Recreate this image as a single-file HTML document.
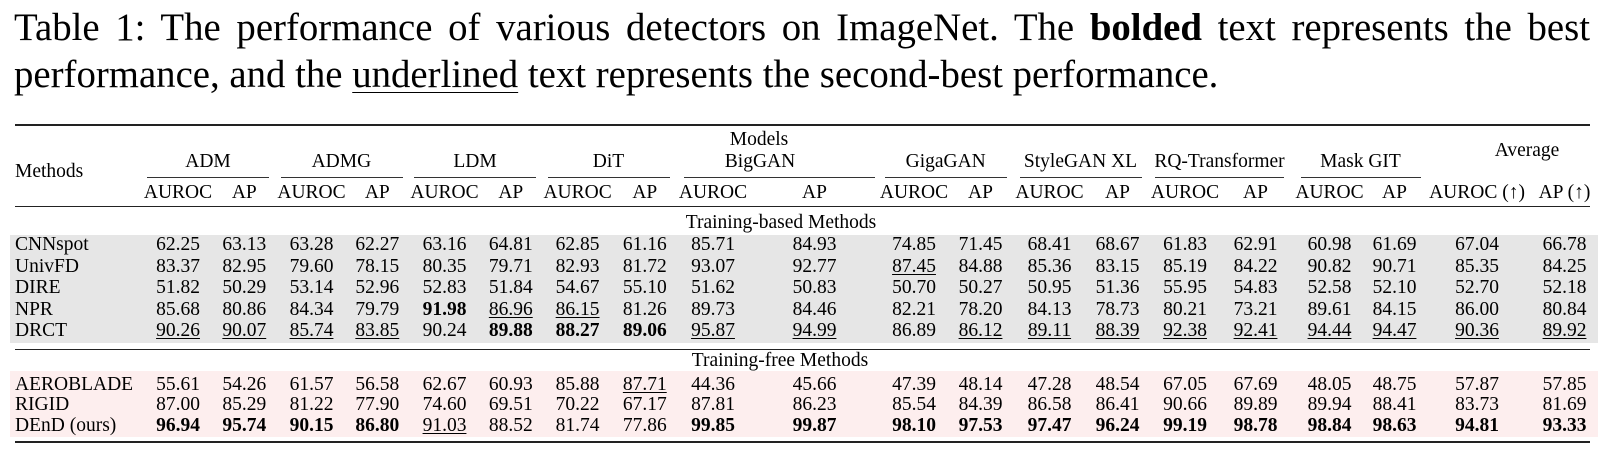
<!DOCTYPE html>
<html><head><meta charset="utf-8">
<style>
html,body{margin:0;padding:0}
body{width:1609px;height:452px;position:relative;background:#fff;font-family:"Liberation Serif","Times New Roman",serif;color:#000;overflow:hidden}
.t{position:absolute;left:14px;font-size:38.8px;line-height:39px;white-space:nowrap}
.t1{top:8px;width:1576px;text-align:justify;text-align-last:justify;white-space:normal}
.t2{top:55px}
.t u{text-decoration:underline;text-underline-offset:5px;text-decoration-thickness:1.3px}
.rule{position:absolute;left:15px;width:1575px;background:#222}
.cm{position:absolute;height:1px;top:177px;background:#333}
.bg{position:absolute;left:10px;width:1588px}
.r{position:absolute;left:0;width:1609px;height:20px;font-size:19.5px;line-height:20px}
.r span{position:absolute;width:100px;text-align:center;white-space:nowrap}
.r span.m{left:15px;width:auto;text-align:left}
.r span.g{width:200px}
.r u{text-decoration:underline;text-underline-offset:2px;text-decoration-thickness:1px}
.k1{left:128px}.k2{left:194.3px}.k3{left:261.5px}.k4{left:327.3px}.k5{left:394.5px}
.k6{left:460.8px}.k7{left:527.6px}.k8{left:594.8px}.k9{left:663px}.k10{left:764.5px}
.k11{left:864px}.k12{left:930.5px}.k13{left:999.5px}.k14{left:1067.5px}.k15{left:1135px}
.k16{left:1205.5px}.k17{left:1279.5px}.k18{left:1344.5px}.k19{left:1427px}.k20{left:1514.5px}
</style></head><body>

<div class="t t1">Table 1: The performance of various detectors on ImageNet. The <b>bolded</b> text represents the best</div>
<div class="t t2">performance, and the <u>underlined</u> text represents the second-best performance.</div>

<div class="rule" style="top:124px;height:2px"></div>
<div class="rule" style="top:206px;height:1px"></div>
<div class="rule" style="top:348.5px;height:1px"></div>
<div class="rule" style="top:441px;height:2px"></div>

<div class="cm" style="left:147px;width:122px"></div>
<div class="cm" style="left:280.5px;width:122px"></div>
<div class="cm" style="left:414px;width:122px"></div>
<div class="cm" style="left:547.6px;width:122px"></div>
<div class="cm" style="left:683.5px;width:191.5px"></div>
<div class="cm" style="left:885px;width:121.5px"></div>
<div class="cm" style="left:1019.5px;width:122px"></div>
<div class="cm" style="left:1155px;width:129px"></div>
<div class="cm" style="left:1300.5px;width:120px"></div>

<div class="bg" style="top:235px;height:108px;background:#e6e6e6"></div>
<div class="bg" style="top:371px;height:66px;background:#fdeeee"></div>

<div class="r" style="top:130.4px"><span class="g" style="left:659px">Models</span></div>
<div class="r" style="top:141.4px"><span class="g" style="left:1427px">Average</span></div>
<div class="r" style="top:152.4px">
<span class="g" style="left:108px">ADM</span>
<span class="g" style="left:241.4px">ADMG</span>
<span class="g" style="left:375px">LDM</span>
<span class="g" style="left:508.5px">DiT</span>
<span class="g" style="left:660px">BigGAN</span>
<span class="g" style="left:845.7px">GigaGAN</span>
<span class="g" style="left:980.5px">StyleGAN XL</span>
<span class="g" style="left:1119.5px">RQ-Transformer</span>
<span class="g" style="left:1260.5px">Mask GIT</span>
</div>
<div class="r" style="top:162.4px"><span class="m">Methods</span></div>
<div class="r" style="top:182.9px">
<span class="k1">AUROC</span><span class="k2">AP</span><span class="k3">AUROC</span><span class="k4">AP</span><span class="k5">AUROC</span><span class="k6">AP</span><span class="k7">AUROC</span><span class="k8">AP</span><span class="k9">AUROC</span><span class="k10">AP</span><span class="k11">AUROC</span><span class="k12">AP</span><span class="k13">AUROC</span><span class="k14">AP</span><span class="k15">AUROC</span><span class="k16">AP</span><span class="k17">AUROC</span><span class="k18">AP</span><span class="k19">AUROC (↑)</span><span class="k20">AP (↑)</span>
</div>

<div class="r" style="top:213.4px"><span class="g" style="left:681px">Training-based Methods</span></div>

<div class="r" style="top:235.2px"><span class="m">CNNspot</span>
<span class="k1">62.25</span><span class="k2">63.13</span><span class="k3">63.28</span><span class="k4">62.27</span><span class="k5">63.16</span><span class="k6">64.81</span><span class="k7">62.85</span><span class="k8">61.16</span><span class="k9">85.71</span><span class="k10">84.93</span><span class="k11">74.85</span><span class="k12">71.45</span><span class="k13">68.41</span><span class="k14">68.67</span><span class="k15">61.83</span><span class="k16">62.91</span><span class="k17">60.98</span><span class="k18">61.69</span><span class="k19">67.04</span><span class="k20">66.78</span>
</div>
<div class="r" style="top:256.7px"><span class="m">UnivFD</span>
<span class="k1">83.37</span><span class="k2">82.95</span><span class="k3">79.60</span><span class="k4">78.15</span><span class="k5">80.35</span><span class="k6">79.71</span><span class="k7">82.93</span><span class="k8">81.72</span><span class="k9">93.07</span><span class="k10">92.77</span><span class="k11"><u>87.45</u></span><span class="k12">84.88</span><span class="k13">85.36</span><span class="k14">83.15</span><span class="k15">85.19</span><span class="k16">84.22</span><span class="k17">90.82</span><span class="k18">90.71</span><span class="k19">85.35</span><span class="k20">84.25</span>
</div>
<div class="r" style="top:278.2px"><span class="m">DIRE</span>
<span class="k1">51.82</span><span class="k2">50.29</span><span class="k3">53.14</span><span class="k4">52.96</span><span class="k5">52.83</span><span class="k6">51.84</span><span class="k7">54.67</span><span class="k8">55.10</span><span class="k9">51.62</span><span class="k10">50.83</span><span class="k11">50.70</span><span class="k12">50.27</span><span class="k13">50.95</span><span class="k14">51.36</span><span class="k15">55.95</span><span class="k16">54.83</span><span class="k17">52.58</span><span class="k18">52.10</span><span class="k19">52.70</span><span class="k20">52.18</span>
</div>
<div class="r" style="top:299.7px"><span class="m">NPR</span>
<span class="k1">85.68</span><span class="k2">80.86</span><span class="k3">84.34</span><span class="k4">79.79</span><span class="k5"><b>91.98</b></span><span class="k6"><u>86.96</u></span><span class="k7"><u>86.15</u></span><span class="k8">81.26</span><span class="k9">89.73</span><span class="k10">84.46</span><span class="k11">82.21</span><span class="k12">78.20</span><span class="k13">84.13</span><span class="k14">78.73</span><span class="k15">80.21</span><span class="k16">73.21</span><span class="k17">89.61</span><span class="k18">84.15</span><span class="k19">86.00</span><span class="k20">80.84</span>
</div>
<div class="r" style="top:321.2px"><span class="m">DRCT</span>
<span class="k1"><u>90.26</u></span><span class="k2"><u>90.07</u></span><span class="k3"><u>85.74</u></span><span class="k4"><u>83.85</u></span><span class="k5">90.24</span><span class="k6"><b>89.88</b></span><span class="k7"><b>88.27</b></span><span class="k8"><b>89.06</b></span><span class="k9"><u>95.87</u></span><span class="k10"><u>94.99</u></span><span class="k11">86.89</span><span class="k12"><u>86.12</u></span><span class="k13"><u>89.11</u></span><span class="k14"><u>88.39</u></span><span class="k15"><u>92.38</u></span><span class="k16"><u>92.41</u></span><span class="k17"><u>94.44</u></span><span class="k18"><u>94.47</u></span><span class="k19"><u>90.36</u></span><span class="k20"><u>89.92</u></span>
</div>

<div class="r" style="top:351.4px"><span class="g" style="left:680px">Training-free Methods</span></div>

<div class="r" style="top:374.9px"><span class="m">AEROBLADE</span>
<span class="k1">55.61</span><span class="k2">54.26</span><span class="k3">61.57</span><span class="k4">56.58</span><span class="k5">62.67</span><span class="k6">60.93</span><span class="k7">85.88</span><span class="k8"><u>87.71</u></span><span class="k9">44.36</span><span class="k10">45.66</span><span class="k11">47.39</span><span class="k12">48.14</span><span class="k13">47.28</span><span class="k14">48.54</span><span class="k15">67.05</span><span class="k16">67.69</span><span class="k17">48.05</span><span class="k18">48.75</span><span class="k19">57.87</span><span class="k20">57.85</span>
</div>
<div class="r" style="top:395.4px"><span class="m">RIGID</span>
<span class="k1">87.00</span><span class="k2">85.29</span><span class="k3">81.22</span><span class="k4">77.90</span><span class="k5">74.60</span><span class="k6">69.51</span><span class="k7">70.22</span><span class="k8">67.17</span><span class="k9">87.81</span><span class="k10">86.23</span><span class="k11">85.54</span><span class="k12">84.39</span><span class="k13">86.58</span><span class="k14">86.41</span><span class="k15">90.66</span><span class="k16">89.89</span><span class="k17">89.94</span><span class="k18">88.41</span><span class="k19">83.73</span><span class="k20">81.69</span>
</div>
<div class="r" style="top:415.9px"><span class="m">DEnD (ours)</span>
<span class="k1"><b>96.94</b></span><span class="k2"><b>95.74</b></span><span class="k3"><b>90.15</b></span><span class="k4"><b>86.80</b></span><span class="k5"><u>91.03</u></span><span class="k6">88.52</span><span class="k7">81.74</span><span class="k8">77.86</span><span class="k9"><b>99.85</b></span><span class="k10"><b>99.87</b></span><span class="k11"><b>98.10</b></span><span class="k12"><b>97.53</b></span><span class="k13"><b>97.47</b></span><span class="k14"><b>96.24</b></span><span class="k15"><b>99.19</b></span><span class="k16"><b>98.78</b></span><span class="k17"><b>98.84</b></span><span class="k18"><b>98.63</b></span><span class="k19"><b>94.81</b></span><span class="k20"><b>93.33</b></span>
</div>

</body></html>
